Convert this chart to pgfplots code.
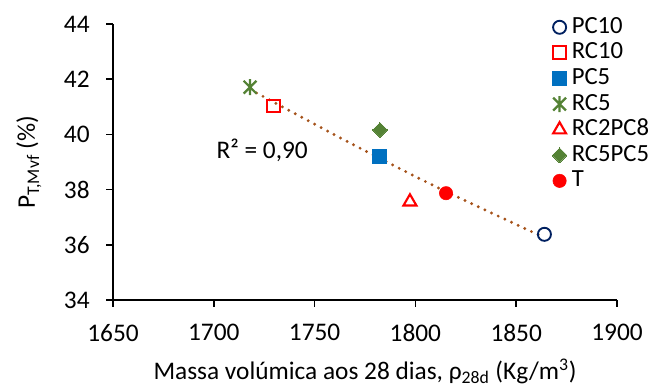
\documentclass[border=0pt]{standalone}
\usepackage{pgfplots}
\pgfplotsset{compat=1.18}
\usepackage{fontspec}
\setmainfont{Carlito}
\definecolor{cnavy}{HTML}{002060}
\definecolor{cred}{HTML}{FF0000}
\definecolor{cblue}{HTML}{0070C0}
\definecolor{cgreen}{HTML}{548235}
\definecolor{ctrend}{HTML}{A5521A}
\pgfdeclareplotmark{xstar}{%
  \pgfpathmoveto{\pgfqpoint{-0.8\pgfplotmarksize}{-0.8\pgfplotmarksize}}%
  \pgfpathlineto{\pgfqpoint{0.8\pgfplotmarksize}{0.8\pgfplotmarksize}}%
  \pgfpathmoveto{\pgfqpoint{-0.8\pgfplotmarksize}{0.8\pgfplotmarksize}}%
  \pgfpathlineto{\pgfqpoint{0.8\pgfplotmarksize}{-0.8\pgfplotmarksize}}%
  \pgfpathmoveto{\pgfqpoint{0pt}{-\pgfplotmarksize}}%
  \pgfpathlineto{\pgfqpoint{0pt}{\pgfplotmarksize}}%
  \pgfusepathqstroke}
\newcommand{\fs}{\fontsize{19}{22}\selectfont}
\begin{document}
\fs
\begin{tikzpicture}
\begin{axis}[
  scale only axis,
  width=378pt, height=207pt,
  xmin=1650, xmax=1900, ymin=34, ymax=44,
  xtick={1650,1700,...,1900},
  ytick={34,36,...,44},
  axis lines*=left,
  axis line style={line width=1.1pt, black},
  major tick style={line width=1.1pt, black},
  tick align=outside,
  major tick length=5pt,
  tick label style={font=\fs},
  xticklabel style={yshift=-6.5pt},
  yticklabel style={xshift=-6pt},
  /pgf/number format/assume math mode=true,
  /pgf/number format/set thousands separator={},
  xlabel={Massa volúmica aos 28 dias, ρ\textsubscript{28d} (Kg/m\textsuperscript{3})},
  ylabel={P\textsubscript{T,Mvf} (\%)},
  label style={font=\fs},
  xlabel style={yshift=-0.5pt},
  ylabel style={yshift=4pt},
  legend style={at={(0.871,1.0355)}, anchor=north west, draw=none, fill=none,
    font=\fontsize{18.5}{22}\selectfont, inner sep=0pt,
    nodes={inner sep=1.1pt, text height=13pt, text depth=4pt},
    /tikz/every odd column/.append style={column sep=2.5pt}},
  legend cell align=left,
  clip=false,
]
\addplot[only marks, mark=o, mark size=4.9pt, mark options={draw=cnavy, line width=1.4pt}] coordinates {(1864,36.38)};
\addlegendentry{PC10}
\addplot[only marks, mark=square, mark size=4.8pt, mark options={draw=cred, line width=1.5pt}] coordinates {(1729.5,41.03)};
\addlegendentry{RC10}
\addplot[only marks, mark=square*, mark size=5.2pt, mark options={draw=cblue, fill=cblue, line width=0pt}] coordinates {(1782.4,39.19)};
\addlegendentry{PC5}
\addplot[only marks, mark=xstar, mark size=6pt, mark options={draw=cgreen, line width=1.7pt}] coordinates {(1718,41.71)};
\addlegendentry{RC5}
\addplot[only marks, mark=triangle, mark size=5.6pt, mark options={draw=cred, line width=1.6pt}] coordinates {(1797.3,37.56)};
\addlegendentry{RC2PC8}
\addplot[only marks, mark=square*, mark size=3.9pt, mark options={draw=cgreen, fill=cgreen, rotate=45, line width=0pt}] coordinates {(1782.4,40.16)};
\addlegendentry{RC5PC5}
\addplot[only marks, mark=*, mark size=5pt, mark options={draw=cred, fill=cred}] coordinates {(1815.2,37.87)};
\addlegendentry{T}
\addplot[smooth, forget plot, draw=ctrend, line width=2.4pt, line cap=round, dash pattern=on 0pt off 5.5pt] coordinates {(1718,41.63) (1761.6,39.92) (1790.4,38.83) (1816,37.9) (1864,36.26)};
\node[font=\fs] at (axis cs:1724,39.43) {R² = 0,90};
\end{axis}
\pgfresetboundingbox
\path (-84.75pt,-64.5pt) rectangle (403.5pt,225pt);
\end{tikzpicture}
\end{document}
